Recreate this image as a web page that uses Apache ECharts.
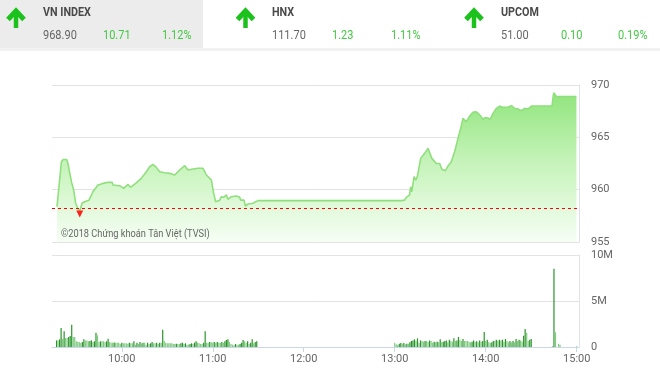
<!DOCTYPE html>
<html>
<head>
<meta charset="utf-8">
<script src="https://cdn.jsdelivr.net/npm/echarts@6/dist/echarts.min.js"></script>
<style>
html,body{margin:0;padding:0;background:#fff;}
#chart{width:660px;height:376px;}
</style>
</head>
<body>
<div id="chart"></div>
<script>
// ---- Header quotes ----
const quoteNames = ['VN INDEX', 'HNX', 'UPCOM'];
const quotePrices = ['968.90', '111.70', '51.00'];
const quoteChanges = ['10.71', '1.23', '0.10'];
const quotePercents = ['1.12%', '1.11%', '0.19%'];

// ---- Intraday index (time, value) ----
const priceTimes = ['09:17:18','09:20:12','09:21:24','09:23:42','09:24:30','09:26:48','09:28:18','09:29:36','09:31:06','09:32:18',
'09:33:48','09:35:36','09:38:24','09:41:00','09:44:18','09:45:24','09:47:36','09:50:54','09:53:48','09:54:12',
'09:58:36','10:01:18','10:04:06','10:05:42','10:09:12','10:12:54','10:16:12','10:18:24','10:20:36','10:22:48',
'10:25:00','10:28:18','10:31:36','10:34:54','10:38:12','10:41:30','10:43:42','10:47:00','10:50:18','10:53:36',
'10:55:48','10:59:06','11:00:36','11:01:54','11:04:36','11:05:42','11:07:12','11:09:00','11:10:00','11:12:18',
'11:15:36','11:17:48','11:18:24','11:20:36','11:21:30','11:23:12','11:26:30','11:29:48','13:01:00','13:04:24',
'13:06:30','13:07:42','13:08:42','13:09:48','13:10:30','13:11:18','13:12:42','13:13:48','13:14:54','13:17:06',
'13:19:42','13:21:54','13:24:30','13:27:24','13:29:36','13:31:06','13:33:24','13:35:06','13:37:18','13:39:30',
'13:41:42','13:43:30','13:45:00','13:47:12','13:49:24','13:51:36','13:53:24','13:54:54','13:56:42','13:58:12',
'13:59:42','14:01:30','14:03:00','14:04:48','14:07:00','14:09:12','14:11:24','14:14:42','14:16:54','14:19:06',
'14:21:18','14:23:30','14:25:42','14:27:48','14:30:06','14:43:42','14:44:48','14:46:36','14:59:48'];
const priceValues = [958.37,962.67,962.88,962.88,962.5,960.76,959.97,958.7,958.2,957.96,
958.7,958.85,959.0,959.8,960.44,960.6,960.6,960.7,960.7,960.44,
960.38,960.13,960.5,960.22,960.6,961.08,961.71,962.19,962.42,962.13,
961.71,961.62,961.56,961.4,961.88,962.29,961.88,961.97,962.04,962.04,
961.4,960.92,959.65,958.85,959.0,959.33,959.27,959.5,959.08,959.33,
959.4,959.27,959.0,959.0,958.44,958.63,958.7,958.95,958.95,958.95,
959.0,959.27,959.33,959.5,960.28,959.8,961.24,960.92,961.24,962.99,
963.47,963.95,962.99,962.5,962.5,961.94,961.81,962.26,962.67,963.62,
964.9,965.86,966.81,966.49,967.03,967.39,967.44,967.3,967.03,966.72,
966.9,966.85,966.72,967.29,967.77,967.99,967.86,967.9,968.02,967.77,
967.7,967.54,967.77,967.7,967.99,968.0,969.26,968.9,968.9];
const refClose = 958.19;

// ---- Volume (millions of shares, one bar per minute) ----
const volMorningStart = '09:17';
const volMorning = [0.72,0.72,0.83,2.07,0.9,1.7,0.98,0.98,1.09,1.2,
2.43,1.09,1.09,0.62,0.58,0.54,0.43,0.54,0.83,0.72,
0.72,0.62,0.66,0.72,0.54,0.62,1.56,1.27,0.54,0.62,
0.62,0.62,0.54,0.62,0.9,0.54,0.47,0.47,0.5,0.47,
0.47,0.47,0.33,0.47,0.4,0.4,0.4,0.36,0.47,0.4,
0.4,0.62,0.25,0.47,0.33,0.54,0.4,0.47,0.47,0.25,
0.47,0.33,0.4,0.54,0.4,0.4,0.47,0.33,0.47,0.47,
1.88,0.69,0.47,0.4,0.4,0.4,0.4,0.33,0.33,0.36,
0.33,0.33,0.4,0.47,0.33,0.4,0.25,0.25,0.33,0.4,
0.33,0.47,0.62,0.47,0.4,0.33,0.33,0.47,1.7,0.47,
0.47,0.54,0.54,0.47,0.54,0.47,0.54,0.47,0.47,0.54,
0.47,0.62,0.76,0.83,0.54,0.33,0.25,0.18,0.33,0.25,
0.25,0.33,0.47,0.76,0.62,0.47,0.62,0.33,0.47,0.83,
0.4,0.54,0.62];
const volAfternoonStart = '13:00';
const volAfternoon = [0.47,0.29,0.22,0.36,0.43,0.36,0.43,0.29,0.36,0.36,
0.51,0.65,0.72,0.83,0.65,0.94,0.47,0.72,0.65,0.58,
0.65,0.65,0.58,0.72,0.65,0.47,0.58,0.51,0.58,0.51,
0.83,0.51,0.58,0.65,0.72,0.51,0.8,0.65,0.58,0.94,
0.65,0.72,1.09,0.8,0.65,0.87,0.65,0.65,0.65,0.58,
0.51,0.58,0.72,0.58,0.62,0.51,0.7,0.58,0.65,1.63,
0.65,0.8,0.51,0.43,0.51,0.65,0.65,0.8,0.65,0.8,
0.72,0.8,0.58,0.87,0.65,0.51,0.65,0.51,0.65,0.51,
0.87,0.65,0.8,0.72,0.6,1.23,1.96,1.56,0.65,0.8,
0.87];
const volAtcTimes = ['14:44','14:45','14:46','14:48','14:49','15:00'];
const volAtcValues = [0.1, 8.5, 1.6, 0.35, 0.25, 0.08];

// ---- Axis ticks ----
const hourTicks = ['10:00','11:00','12:00','13:00','14:00','15:00'];
const priceTicks = [955, 960, 965, 970];
const volTicks = [0, 5, 10];

function toMin(t){const p=t.split(':').map(Number);return p[0]*60+p[1]+(p[2]||0)/60;}
function fmt(m){const h=Math.floor(m/60),mm=Math.round(m%60);return (h<10?'0':'')+h+':'+(mm<10?'0':'')+mm;}

const priceData = priceTimes.map((t,i)=>[toMin(t), priceValues[i]]);
let minIdx = 0; priceValues.forEach((v,i)=>{ if(v<priceValues[minIdx]) minIdx=i; });

const volData = [];
const ms = toMin(volMorningStart);
volMorning.forEach((v,i)=>volData.push([ms+i, v]));
const as = toMin(volAfternoonStart);
volAfternoon.forEach((v,i)=>volData.push([as+i, v]));
volAtcTimes.forEach((t,i)=>volData.push([toMin(t), volAtcValues[i]]));

const X_MIN = 554, X_MAX = 901.5;
const FONT = 'Roboto, "Noto Sans", sans-serif';
const GREEN_TXT = '#45c845';
const ARROW = '#1cc21c';

function txt(s, x, y, font, fill, sx){
  return {type:'text', x:x, y:y, scaleX:sx, z:100,
    style:{text:s, x:0, y:0, font:font, fill:fill, textVerticalAlign:'middle'}};
}

const graphics = [
  {type:'rect', shape:{x:0,y:0,width:203,height:48}, style:{fill:'#ececec'}, silent:true},
  {type:'rect', shape:{x:0,y:48,width:660,height:3}, style:{fill:'#f2f2f2'}, silent:true},
  txt('©2018 Chứng khoán Tân Việt (TVSI)', 61, 234.5, '11px '+FONT, '#666', 0.84)
];
const arrowX = [16, 245.5, 474];
const nameX = [43, 272, 501];
const chgX = [103, 332, 561];
const pctX = [162, 391, 618];
quoteNames.forEach((n,i)=>{
  const cx = arrowX[i];
  graphics.push({type:'polyline', shape:{points:[[cx-8,19.5],[cx,11],[cx+8,19.5]]}, style:{stroke:ARROW, lineWidth:5, fill:null, lineCap:'butt', lineJoin:'miter'}});
  graphics.push({type:'line', shape:{x1:cx,y1:12,x2:cx,y2:28}, style:{stroke:ARROW, lineWidth:4.5}});
  graphics.push(txt(n, nameX[i], 13, 'bold 12.5px '+FONT, '#4a4a4a', 0.86));
  graphics.push(txt(quotePrices[i], nameX[i], 35.5, '12.5px '+FONT, '#666', 0.88));
  graphics.push(txt(quoteChanges[i], chgX[i], 35.5, '12.5px '+FONT, GREEN_TXT, 0.88));
  graphics.push(txt(quotePercents[i], pctX[i], 35.5, '12.5px '+FONT, GREEN_TXT, 0.88));
});

const chart = echarts.init(document.getElementById('chart'), null, {renderer:'canvas'});
chart.setOption({
  animation:false,
  backgroundColor:'#fff',
  textStyle:{fontFamily:FONT},
  graphic: graphics,
  grid:[
    {left:52, right:81, top:85, height:157},
    {left:52, right:81, top:255, height:92}
  ],
  xAxis:[
    {type:'value', gridIndex:0, min:X_MIN, max:X_MAX, show:false},
    {type:'value', gridIndex:1, min:X_MIN, max:X_MAX,
     axisLine:{show:true, lineStyle:{color:'#ccd6eb'}},
     axisTick:{show:true, length:5, lineStyle:{color:'#ccd6eb'}, customValues: hourTicks.map(toMin)},
     axisLabel:{show:true, color:'#666', fontSize:11, margin:7, customValues: hourTicks.map(toMin), formatter:v=>fmt(v)},
     splitLine:{show:false}}
  ],
  yAxis:[
    {type:'value', gridIndex:0, position:'right', min:priceTicks[0], max:priceTicks[priceTicks.length-1], interval:5,
     axisLine:{show:true, lineStyle:{color:'#dde3ec'}}, axisTick:{show:false},
     axisLabel:{color:'#666', fontSize:11, margin:12},
     splitLine:{show:true, lineStyle:{color:'#e3e3e3'}}},
    {type:'value', gridIndex:1, position:'right', min:volTicks[0], max:volTicks[volTicks.length-1], interval:5,
     axisLine:{show:true, lineStyle:{color:'#dde3ec'}}, axisTick:{show:false},
     axisLabel:{color:'#666', fontSize:11, margin:12, formatter:v=>v===0?'0':v+'M'},
     splitLine:{show:true, lineStyle:{color:'#e3e3e3'}}}
  ],
  series:[
    {type:'line', xAxisIndex:0, yAxisIndex:0, data:priceData, symbol:'none', showSymbol:false,
     lineStyle:{color:'#8fe07d', width:1.6},
     areaStyle:{origin:'start', opacity:1, color:new echarts.graphic.LinearGradient(0,0,0,1,[
       {offset:0, color:'rgb(145,229,125)'},
       {offset:0.45, color:'rgb(196,243,184)'},
       {offset:1, color:'rgb(246,254,244)'}])},
     markLine:{silent:true, symbol:['none','none'], label:{show:false},
       lineStyle:{color:'#ff0000', type:[3,3], width:1}, data:[{yAxis:refClose}]},
     markPoint:{silent:true, symbol:'triangle', symbolRotate:180, symbolSize:7, symbolOffset:[0,3],
       itemStyle:{color:'#ff2020'}, label:{show:false},
       data:[{coord:priceData[minIdx]}]},
     z:3},
    {type:'bar', xAxisIndex:1, yAxisIndex:1, data:volData, barWidth:1.2,
     itemStyle:{color:p=>{const i=p.dataIndex; const prev=i>0?volData[i-1][1]:0; return volData[i][1]>prev?'#2a962a':'#7fcb7f';}}}
  ]
});
</script>
</body>
</html>
